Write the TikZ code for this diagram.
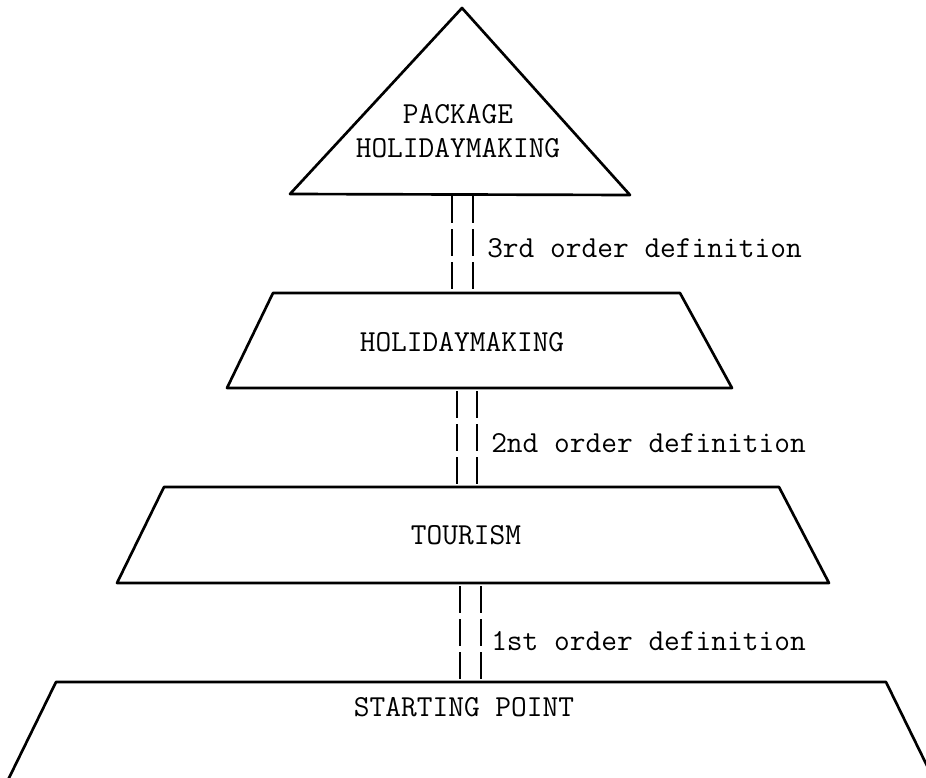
\documentclass[tikz,border=0pt]{standalone}
\usepackage{fontspec}
\begin{document}
\begin{tikzpicture}[x=0.75pt,y=-0.75pt,
  outline/.style={line width=2pt, line join=round, line cap=round},
  rung/.style={line width=1.5pt, dash pattern=on 20.25pt off 4.5pt},
  boxtext/.style={font=\ttfamily\fontsize{22.9}{25.5}\selectfont, inner sep=0pt, align=center},
  deftext/.style={font=\ttfamily\fontsize{22.9}{25.5}\selectfont, inner sep=0pt, anchor=base west}]

\useasboundingbox (0,0) rectangle (926,778);

% apex triangle
\coordinate (apex) at (462,8);
\coordinate (triL) at (290,194);
\coordinate (triR) at (630,195);
\draw[outline] (apex) -- (triR) -- (triL) -- cycle;

% upper trapezium
\coordinate (hA) at (273,293);
\coordinate (hB) at (680,293);
\coordinate (hC) at (732,388);
\coordinate (hD) at (227,388);
\draw[outline] (hA) -- (hB) -- (hC) -- (hD) -- cycle;

% middle trapezium
\coordinate (tA) at (164,487);
\coordinate (tB) at (779,487);
\coordinate (tC) at (829,583);
\coordinate (tD) at (117,583);
\draw[outline] (tA) -- (tB) -- (tC) -- (tD) -- cycle;

% base trapezium, open at the bottom
\coordinate (sA) at (56,682);
\coordinate (sB) at (886,682);
\coordinate (sC) at (934,780);
\coordinate (sD) at (8,780);
\begin{scope}
\clip (0,0) rectangle (926,778);
\draw[outline] (sD) -- (sA) -- (sB) -- (sC);
\end{scope}

% double dashed rungs between the levels
\coordinate (r3a) at (452,196);  \coordinate (r3b) at (452,289);
\coordinate (r3c) at (473,196);  \coordinate (r3d) at (473,289);
\coordinate (r2a) at (457,391);  \coordinate (r2b) at (457,484);
\coordinate (r2c) at (477,391);  \coordinate (r2d) at (477,484);
\coordinate (r1a) at (460,586);  \coordinate (r1b) at (460,679);
\coordinate (r1c) at (481,586);  \coordinate (r1d) at (481,679);
\draw[rung] (r3a) -- (r3b);
\draw[rung] (r3c) -- (r3d);
\draw[rung] (r2a) -- (r2b);
\draw[rung] (r2c) -- (r2d);
\draw[rung] (r1a) -- (r1b);
\draw[rung] (r1c) -- (r1d);

% level names
\node[boxtext] (pkg) at (458,131) {PACKAGE\\HOLIDAYMAKING};
\node[boxtext] (hol) at (462,342) {HOLIDAYMAKING};
\node[boxtext] (tour) at (466,535) {TOURISM};
\node[boxtext] (start) at (464,707) {STARTING POINT};

% definition labels
\node[deftext] (def3) at (487,257) {3rd order definition};
\node[deftext] (def2) at (491,452) {2nd order definition};
\node[deftext] (def1) at (491,650) {1st order definition};
\end{tikzpicture}
\end{document}
